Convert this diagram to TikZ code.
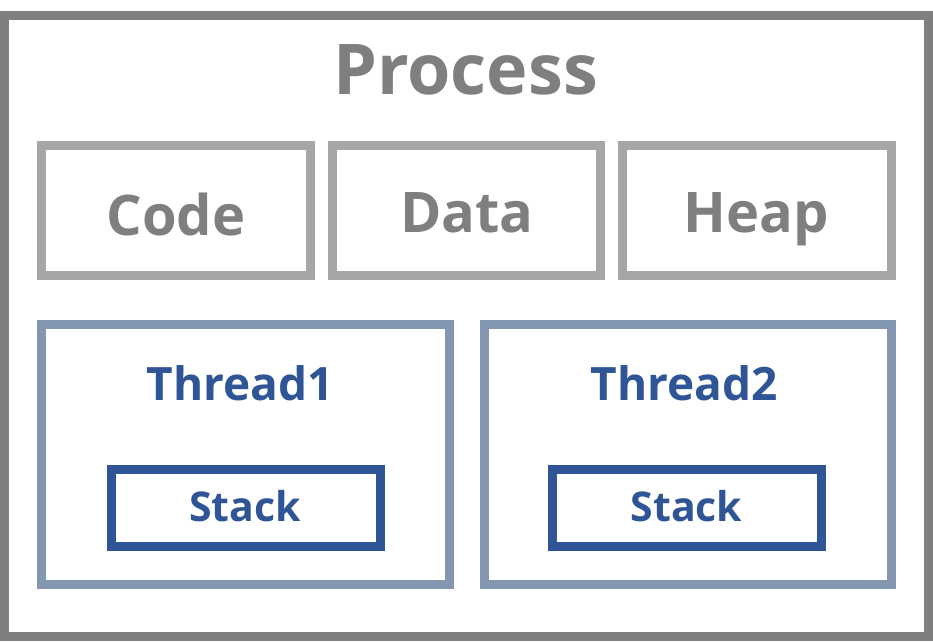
\documentclass[tikz,border=0pt]{standalone}
\usepackage{fontspec}
\setmainfont{Open Sans}
\definecolor{outergray}{HTML}{7F7F7F}
\definecolor{boxgray}{HTML}{A6A6A6}
\definecolor{textgray}{HTML}{7F7F7F}
\definecolor{threadc}{HTML}{8497B0}
\definecolor{stackc}{HTML}{2F5597}
\begin{document}
\begin{tikzpicture}[x=1pt,y=1pt,
  boxbase/.style={rectangle, line width=9pt, inner sep=0pt, outer sep=0pt, fill=white},
  outerbox/.style={boxbase, draw=outergray},
  segbox/.style={boxbase, draw=boxgray, minimum height=130pt},
  threadbox/.style={boxbase, draw=threadc, minimum height=260pt},
  stackbox/.style={boxbase, draw=stackc, minimum width=269pt, minimum height=77pt},
  lbl/.style={anchor=base, inner sep=0pt, font=\bfseries},
  graylbl/.style={lbl, text=textgray},
  bluelbl/.style={lbl, text=stackc}]
\useasboundingbox (0,0) rectangle (933,-641);
\node[outerbox, minimum width=924pt, minimum height=621pt] (process) at (466.5,-326) {};
\node[graylbl, font=\fontsize{70}{80}\selectfont\bfseries] (processlbl) at (465.5,-94) {Process};
\node[segbox, minimum width=269pt] (code) at (176,-210.5) {};
\node[segbox, minimum width=268pt] (data) at (466.5,-210.5) {};
\node[segbox, minimum width=269pt] (heap) at (757,-210.5) {};
\node[graylbl, font=\fontsize{56}{64}\selectfont\bfseries] (codelbl) at (176,-235) {Code};
\node[graylbl, font=\fontsize{56}{64}\selectfont\bfseries] (datalbl) at (467,-232) {Data};
\node[graylbl, font=\fontsize{56}{64}\selectfont\bfseries] (heaplbl) at (756,-232) {Heap};
\node[threadbox, minimum width=408pt] (thread1) at (245.5,-454.5) {};
\node[threadbox, minimum width=407pt] (thread2) at (688,-454.5) {};
\node[bluelbl, font=\fontsize{46}{52}\selectfont\bfseries] (t1lbl) at (240.5,-400) {Thread1};
\node[bluelbl, font=\fontsize{46}{52}\selectfont\bfseries] (t2lbl) at (684,-400) {Thread2};
\node[stackbox] (stack1) at (246,-508) {};
\node[stackbox] (stack2) at (687,-508) {};
\node[bluelbl, font=\fontsize{41}{48}\selectfont\bfseries] (s1lbl) at (245,-521) {Stack};
\node[bluelbl, font=\fontsize{41}{48}\selectfont\bfseries] (s2lbl) at (686.5,-521) {Stack};
\end{tikzpicture}
\end{document}
